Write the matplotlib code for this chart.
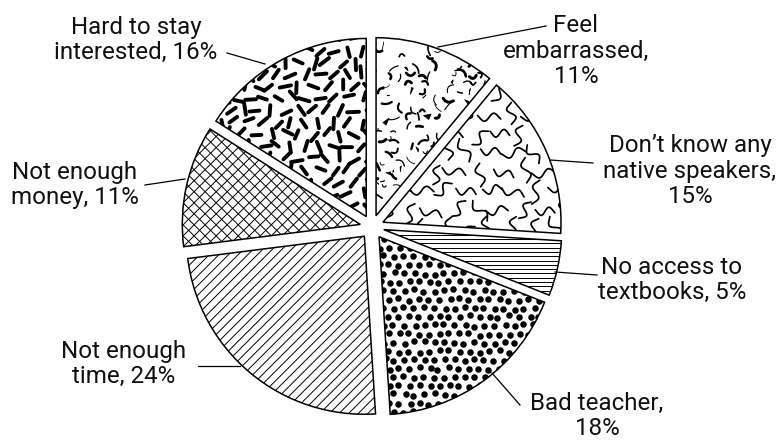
import numpy as np
import matplotlib
matplotlib.use('Agg')
import matplotlib.pyplot as plt
from matplotlib.collections import LineCollection, PatchCollection
from matplotlib.patches import Wedge, Polygon

# ---------------- data ----------------
categories = ["Feel embarrassed", "Don't know any native speakers",
              "No access to textbooks", "Bad teacher", "Not enough time",
              "Not enough money", "Hard to stay interested"]
values = [11, 15, 5, 18, 24, 11, 16]
labels = ["Feel\nembarrassed,\n11%",
          "Don\u2019t know any\nnative speakers,\n15%",
          "No access to\ntextbooks, 5%",
          "Bad teacher,\n18%",
          "Not enough\ntime, 24%",
          "Not enough\nmoney, 11%",
          "Hard to stay\ninterested, 16%"]

# ---------------- layout ----------------
W, H = 778, 443
fig = plt.figure(figsize=(W / 100, H / 100), dpi=100)
ax = fig.add_axes([0, 0, 1, 1])
cx, cy = 372, H - 227
R = 178
EXPL = 12
rng = np.random.default_rng(7)  # texture only

wedges, _ = ax.pie(values, explode=[EXPL] * len(values), startangle=90,
                   counterclock=False, center=(cx, cy), radius=R,
                   wedgeprops=dict(facecolor='white', edgecolor='none', zorder=1))
ax.set_xlim(0, W)
ax.set_ylim(0, H)
ax.set_aspect('equal')
ax.axis('off')


def bbox(w, m=15):
    th = np.radians(np.linspace(w.theta1, w.theta2, 60))
    xs = np.r_[w.center[0], w.center[0] + w.r * np.cos(th)]
    ys = np.r_[w.center[1], w.center[1] + w.r * np.sin(th)]
    return xs.min() - m, xs.max() + m, ys.min() - m, ys.max() + m


def add_clipped(art, w):
    art.set_zorder(2)
    ax.add_collection(art)
    art.set_clip_path(w)


def line_family(w, ang, spacing, lw):
    x0, x1, y0, y1 = bbox(w)
    a = np.radians(ang)
    d = np.array([np.cos(a), np.sin(a)])
    n = np.array([-np.sin(a), np.cos(a)])
    c = np.array([(x0 + x1) / 2, (y0 + y1) / 2])
    L = np.hypot(x1 - x0, y1 - y0)
    segs = []
    for t in np.arange(-L / 2, L / 2, spacing):
        p = c + t * n
        segs.append([p - d * L, p + d * L])
    lc = LineCollection(segs, colors='black', linewidths=lw)
    add_clipped(lc, w)


def jitter_grid(w, sp, jit, hexa=True):
    x0, x1, y0, y1 = bbox(w)
    pts = []
    for j, y in enumerate(np.arange(y0, y1, sp * (0.866 if hexa else 1))):
        off = (sp / 2 if (hexa and j % 2) else 0)
        for x in np.arange(x0 + off, x1, sp):
            pts.append((x + rng.uniform(-jit, jit), y + rng.uniform(-jit, jit)))
    return np.array(pts)


# 0 Feel embarrassed : irregular shards / curls
w = wedges[0]
pts = jitter_grid(w, 10, 3.5)
segs, lws, polys = [], [], []
for (x, y) in pts:
    r = rng.random()
    if r < 0.45:
        a = rng.uniform(0, 2 * np.pi)
        L = rng.uniform(4, 11)
        bend = rng.uniform(-3, 3)
        s = np.linspace(-0.5, 0.5, 5)
        px = x + s * L * np.cos(a) - (1 - 4 * s ** 2) * bend * np.sin(a)
        py = y + s * L * np.sin(a) + (1 - 4 * s ** 2) * bend * np.cos(a)
        segs.append(np.c_[px, py])
        lws.append(rng.uniform(0.5, 2.2))
    elif r < 0.68:
        k = rng.uniform(2, 4)
        ang = np.sort(rng.uniform(0, 2 * np.pi, 3))
        polys.append(Polygon(np.c_[x + k * np.cos(ang), y + k * np.sin(ang)]))
lc = LineCollection(segs, colors='black', linewidths=lws, capstyle='round')
add_clipped(lc, w)
pc = PatchCollection(polys, facecolor='black', edgecolor='black', linewidth=0.5)
add_clipped(pc, w)

# 1 Don't know : squiggles
w = wedges[1]
pts = jitter_grid(w, 22, 4)
segs = []
for (x, y) in pts:
    a = rng.choice([np.pi / 2, 0, np.pi / 3, -np.pi / 3, np.pi / 2, 0]) + rng.uniform(-0.3, 0.3)
    L = rng.uniform(19, 25)
    A = 3.8
    s = np.linspace(-0.5, 0.5, 30)
    off = A * np.sin(2 * np.pi * 1.2 * s)
    px = x + s * L * np.cos(a) - off * np.sin(a)
    py = y + s * L * np.sin(a) + off * np.cos(a)
    segs.append(np.c_[px, py])
lc = LineCollection(segs, colors='black', linewidths=1.25, capstyle='round')
add_clipped(lc, w)

# 2 No access : horizontal lines
line_family(wedges[2], 0, 4.3, 0.7)

# 3 Bad teacher : dots
w = wedges[3]
pts = jitter_grid(w, 10, 1.6)
sc = ax.scatter(pts[:, 0], pts[:, 1], s=22, c='black', linewidths=0, zorder=2)
sc.set_clip_path(w)

# 4 Not enough time : diagonal lines
line_family(wedges[4], 45, 6.8, 0.7)

# 5 Not enough money : crosshatch
line_family(wedges[5], 45, 7.8, 0.7)
line_family(wedges[5], -45, 7.8, 0.7)

# 6 Hard to stay interested : thick dashes
w = wedges[6]
pts = jitter_grid(w, 14, 3)
segs = []
for (x, y) in pts:
    a = rng.uniform(0, np.pi)
    L = rng.uniform(9, 12)
    d = np.array([np.cos(a), np.sin(a)]) * L / 2
    segs.append([(x - d[0], y - d[1]), (x + d[0], y + d[1])])
lc = LineCollection(segs, colors='black', linewidths=2.8, capstyle='round')
add_clipped(lc, w)

# outlines on top
for w in wedges:
    ax.add_patch(Wedge(w.center, w.r, w.theta1, w.theta2, fill=False,
                       edgecolor='black', linewidth=1.1, zorder=3))

# ---------------- labels & leaders ----------------
label_pos = [(576, 51), (690, 171), (672, 280), (597, 416),
             (124, 364), (75, 185), (136, 40)]
leaders = [((438, 47), (546, 26)), ((550, 160), (593, 163)),
           ((555, 272), (597, 275)), ((492, 373), (520, 405)),
           ((198, 366), (240, 366)), ((145, 185), (185, 179)),
           ((227, 53), (265, 64))]
for lab, (x, y) in zip(labels, label_pos):
    ax.text(x, H - y, lab, ha='center', va='center', fontsize=17.4,
            family='Roboto', color='#111111',
            linespacing=1.12, zorder=4)
for (p, q) in leaders:
    ax.plot([p[0], q[0]], [H - p[1], H - q[1]], color='black', lw=0.9, zorder=4)

fig.savefig('out.png', dpi=100)
